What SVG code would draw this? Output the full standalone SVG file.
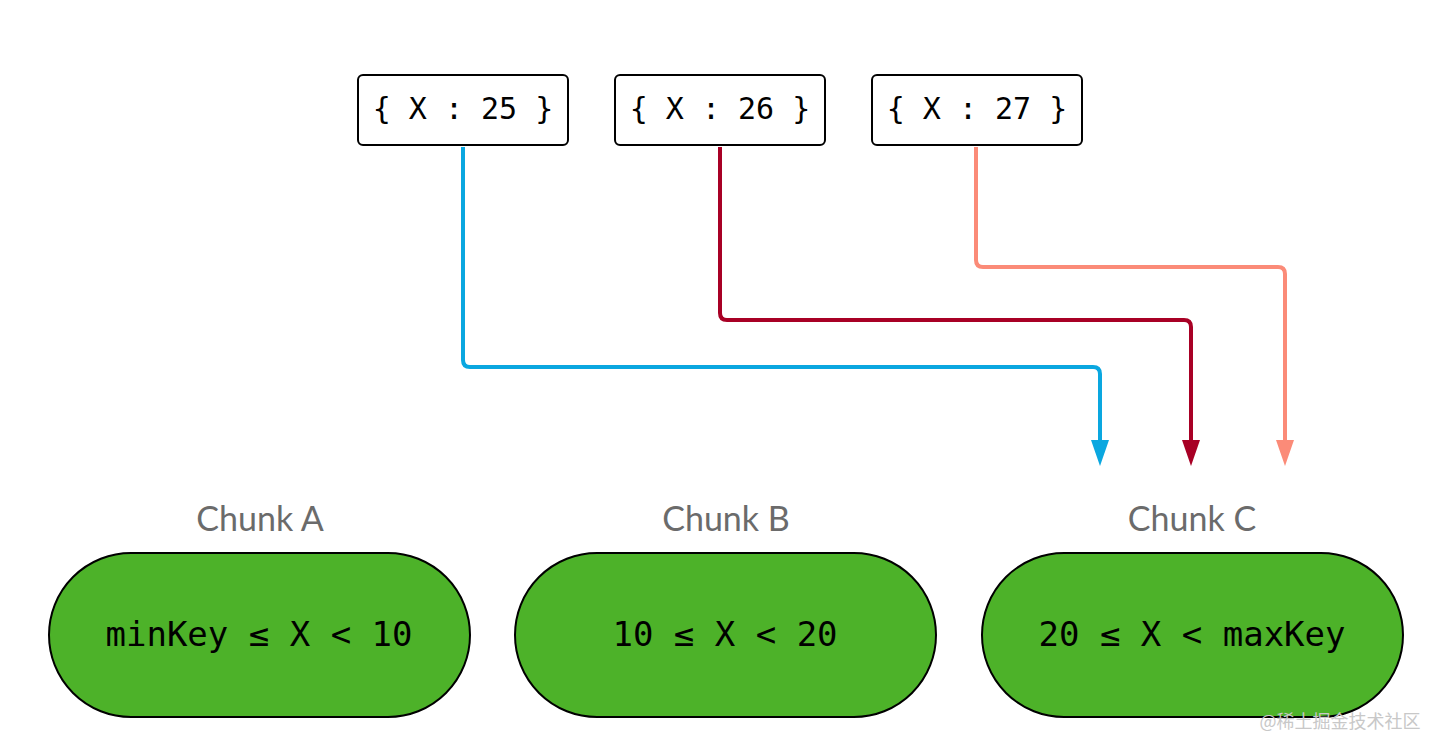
<svg xmlns="http://www.w3.org/2000/svg" width="1442" height="754" viewBox="0 0 1442 754">
<style>
.box{fill:#fff;stroke:#000;stroke-width:2}
.btxt{font-family:"DejaVu Sans Mono",monospace;font-size:30px;fill:#000;text-anchor:middle}
.pill{fill:#4db229;stroke:#000;stroke-width:2}
.ptxt{font-family:"DejaVu Sans Mono",monospace;font-size:34px;fill:#000;text-anchor:middle}
.lbl{font-family:Lato,"Open Sans",sans-serif;font-size:34px;fill:#6b6b6b;text-anchor:middle}
.wire{fill:none;stroke-width:4;stroke-linejoin:round}
</style>
<rect width="1442" height="754" fill="#fff"/>
<g id="connectors">
<path class="wire" stroke="#0aa7e0" d="M463,147 V360 Q463,367 470,367 H1093 Q1100,367 1100,374 V442"/>
<path d="M1091,440 L1109,440 L1100,466 Z" fill="#0aa7e0"/>
<path class="wire" stroke="#a80025" d="M720,147 V313 Q720,320 727,320 H1184 Q1191,320 1191,327 V442"/>
<path d="M1182,440 L1200,440 L1191,466 Z" fill="#a80025"/>
<path class="wire" stroke="#fb8b78" d="M976,147 V260 Q976,267 983,267 H1278 Q1285,267 1285,274 V442"/>
<path d="M1276,440 L1294,440 L1285,466 Z" fill="#fb8b78"/>
</g>
<g id="doc25"><rect class="box" x="358" y="75" width="210" height="70" rx="5"/><text class="btxt" x="463" y="119">{ X : 25 }</text></g>
<g id="doc26"><rect class="box" x="615" y="75" width="210" height="70" rx="5"/><text class="btxt" x="720" y="119">{ X : 26 }</text></g>
<g id="doc27"><rect class="box" x="872" y="75" width="210" height="70" rx="5"/><text class="btxt" x="977" y="119">{ X : 27 }</text></g>
<g id="chunkA"><text class="lbl" x="260" y="531">Chunk A</text><rect class="pill" x="49" y="553" width="421" height="164" rx="82"/><text class="ptxt" x="259" y="646">minKey ≤ X &lt; 10</text></g>
<g id="chunkB"><text class="lbl" x="726" y="531">Chunk B</text><rect class="pill" x="515" y="553" width="421" height="164" rx="82"/><text class="ptxt" x="725" y="646">10 ≤ X &lt; 20</text></g>
<g id="chunkC"><text class="lbl" x="1192" y="531">Chunk C</text><rect class="pill" x="982" y="553" width="421" height="164" rx="82"/><text class="ptxt" x="1192" y="646">20 ≤ X &lt; maxKey</text></g>
<text x="1340" y="728" font-family="'Noto Sans CJK SC',sans-serif" font-size="18" fill="#c8c8c8" text-anchor="middle">@稀土掘金技术社区</text>
</svg>
